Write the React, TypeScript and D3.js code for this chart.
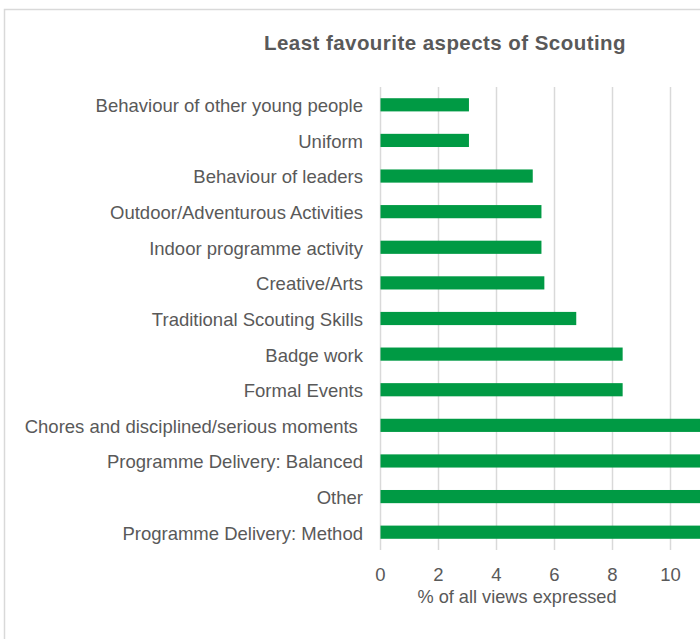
import React from "react";
import * as d3 from "d3";

const categories = [
  "Behaviour of other young people",
  "Uniform",
  "Behaviour of leaders",
  "Outdoor/Adventurous Activities",
  "Indoor programme activity",
  "Creative/Arts",
  "Traditional Scouting Skills",
  "Badge work",
  "Formal Events",
  "Chores and disciplined/serious moments ",
  "Programme Delivery: Balanced",
  "Other",
  "Programme Delivery: Method",
];
const values = [3.05, 3.05, 5.25, 5.55, 5.55, 5.65, 6.75, 8.35, 8.35, 11.5, 12.0, 13.0, 14.5];
const xTicks = [0, 2, 4, 6, 8, 10];
const title = "Least favourite aspects of Scouting";
const xTitle = "% of all views expressed";

export default function App() {
  const W = 700, H = 639;
  const left = 380.5;
  const x = d3.scaleLinear().domain([0, 16]).range([left, left + 29 * 16]);
  const y = d3.scaleBand<string>().domain(categories).range([87, 550]).paddingInner(0.63).paddingOuter(0.315);
  const font = "'Liberation Sans', Arial, sans-serif";
  return (
    <svg width={W} height={H} style={{ position: "absolute", left: 0, top: 0, background: "#fff" }}>
      <rect x={4.5} y={9.5} width={W + 20} height={H + 20} fill="#fff" stroke="#d9d9d9" strokeWidth={1.5} />
      <text x={445} y={50} textAnchor="middle" fontFamily={font} fontWeight="bold" fontSize={20.5} letterSpacing={0.45} fill="#595959">{title}</text>
      {xTicks.map((t) => (
        <line key={"g" + t} x1={x(t)} x2={x(t)} y1={87} y2={550} stroke="#d9d9d9" strokeWidth={1.5} />
      ))}
      {categories.map((c, i) => (
        <rect key={c} x={x(0)} y={y(c)!} width={x(values[i]) - x(0)} height={y.bandwidth()} fill="#009A44" />
      ))}
      {categories.map((c) => (
        <text key={"l" + c} x={363} y={y(c)! + y.bandwidth() / 2} dy="0.4em" textAnchor="end" fontFamily={font} fontSize={18.5} fill="#595959" style={{ whiteSpace: "pre" }}>{c}</text>
      ))}
      {xTicks.map((t) => (
        <text key={"t" + t} x={x(t)} y={580.5} textAnchor="middle" fontFamily={font} fontSize={18.5} fill="#595959">{t}</text>
      ))}
      <text x={517} y={603} textAnchor="middle" fontFamily={font} fontSize={18.2} fill="#595959">{xTitle}</text>
    </svg>
  );
}
